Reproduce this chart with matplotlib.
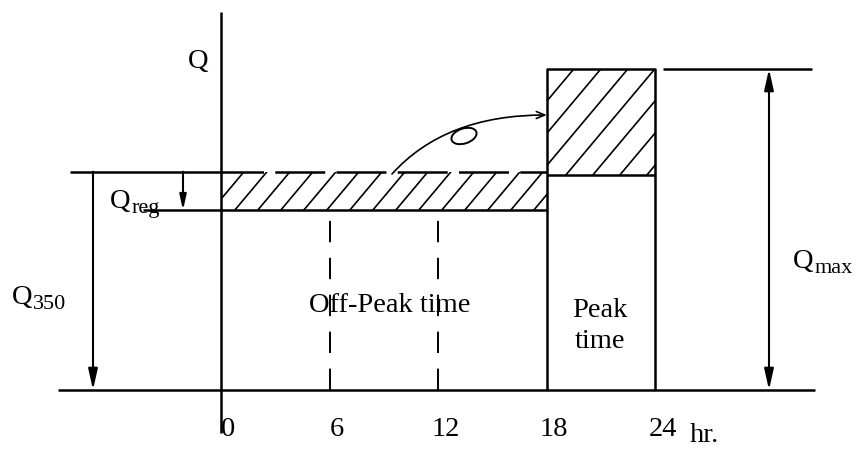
import numpy as np
import matplotlib
matplotlib.use('Agg')
import matplotlib.pyplot as plt
from matplotlib.patches import Rectangle, Ellipse
from matplotlib.transforms import IdentityTransform

plt.rcParams['font.family'] = ['Liberation Serif', 'DejaVu Serif']

# schematic flow levels (Q, arbitrary units) and time marks (hr)
hours = [0, 6, 12, 18, 24]
hour_labels = ['0', '6', '12', '18', '24']
q_max = 100
q_350 = 68
q_firm = 56            # off-peak release after storing Q_reg
q_peak_base = 67       # level the peak block's hatched part sits on
t_peak = 18            # start of peak time
t_end = 24

W, H = 866, 449
fig = plt.figure(figsize=(W / 100, H / 100), dpi=100)
ax = fig.add_axes([0, 0, 1, 1])
# pixel mapping of the scan: 18.1 px per hour, 3.21 px per Q unit
x0, y0 = 221, 390
px_h, px_q = 18.1, 3.21
ax.set_xlim(-x0 / px_h, (W - x0) / px_h)
ax.set_ylim(-(H - y0) / px_q, y0 / px_q)
ax.axis('off')


def X(px):
    return (px - x0) / px_h


def Y(py):
    return (y0 - py) / px_q


lw = 1.8
k = dict(color='black', lw=lw, solid_capstyle='butt')

# axes
ax.plot([X(58), X(815)], [0, 0], **k)
ax.plot([0, 0], [Y(433), Y(12)], **k)


def hatch(xa, xb, ya, yb, spacing_px=24, angle=50):
    clip = Rectangle((xa, ya), xb - xa, yb - ya, fill=False, lw=0)
    ax.add_patch(clip)
    hpx = (yb - ya) * px_q
    dx = hpx / np.tan(np.radians(angle)) / px_h
    for xs in np.arange(xa - dx, xb + dx, spacing_px / px_h):
        ln, = ax.plot([xs, xs + dx], [ya, yb], color='black', lw=1.2)
        ln.set_clip_path(clip)


# off-peak storage band
hatch(0, t_peak, q_firm, q_350, spacing_px=23)
ax.plot([X(70), 0], [q_350, q_350], **k)
ax.plot([0, t_peak], [q_350, q_350], color='black', lw=lw, ls=(3, (20, 4.5)))
ax.plot([X(143), t_peak], [q_firm, q_firm], **k)
for h in hours[1:3]:
    ax.plot([h, h], [0, q_firm], color='black', lw=1.4, ls=(0, (11, 8)))

# peak block
hatch(t_peak, t_end, q_peak_base, q_max, spacing_px=27)
ax.plot([t_peak, t_peak, t_end, t_end], [0, q_max, q_max, 0], **k)
ax.plot([t_peak, t_end], [q_peak_base, q_peak_base], **k)
ax.plot([X(663), X(812)], [q_max, q_max], **k)

# dimension arrows
arr = dict(arrowstyle='-|>,head_length=0.9,head_width=0.2', color='black',
           lw=1.5, shrinkA=0, shrinkB=0, mutation_scale=14)
ax.annotate('', xy=(X(769), 0), xytext=(X(769), q_max / 2), arrowprops=arr)
ax.annotate('', xy=(X(769), q_max), xytext=(X(769), q_max / 2), arrowprops=arr)
ax.annotate('', xy=(X(93), 0), xytext=(X(93), q_350), arrowprops=arr)
ax.annotate('', xy=(X(183), q_firm), xytext=(X(183), q_350),
            arrowprops=dict(arr, mutation_scale=10))

# transfer arrow from off-peak storage to peak, with the little loop
ax.annotate('', xy=(t_peak, Y(115)), xytext=(X(392), Y(174)),
            arrowprops=dict(arrowstyle='->,head_length=0.6,head_width=0.25',
                            color='black', lw=1.2,
                            connectionstyle='angle3,angleA=48,angleB=0',
                            shrinkA=0, shrinkB=0))
ax.add_patch(Ellipse((464, H - 136), 26, 15, angle=18, fill=False,
                     color='black', lw=1.4, transform=IdentityTransform()))

fs = 20.5


def qlabel(px, py, sub):
    ax.text(X(px), Y(py), 'Q', fontsize=fs, ha='left', va='baseline')
    if sub:
        ax.annotate(sub, xy=(X(px), Y(py)), xytext=(15.2, -3.5),
                    textcoords='offset points', fontsize=fs * 0.78,
                    ha='left', va='baseline')


qlabel(188, 68, '')
qlabel(12, 304, '350')
qlabel(110, 208, 'reg')
qlabel(793, 268, 'max')
ax.text(X(390), Y(312), 'Off-Peak time', fontsize=fs, ha='center', va='baseline')
ax.text(X(600), Y(317), 'Peak', fontsize=fs, ha='center', va='baseline')
ax.text(X(600), Y(348), 'time', fontsize=fs, ha='center', va='baseline')
for h, lab in zip(hours, hour_labels):
    ax.text(h + 0.4, Y(436), lab, fontsize=fs, ha='center', va='baseline')
ax.text(X(690), Y(442), 'hr.', fontsize=fs, ha='left', va='baseline')

fig.savefig('out.png', dpi=100)
